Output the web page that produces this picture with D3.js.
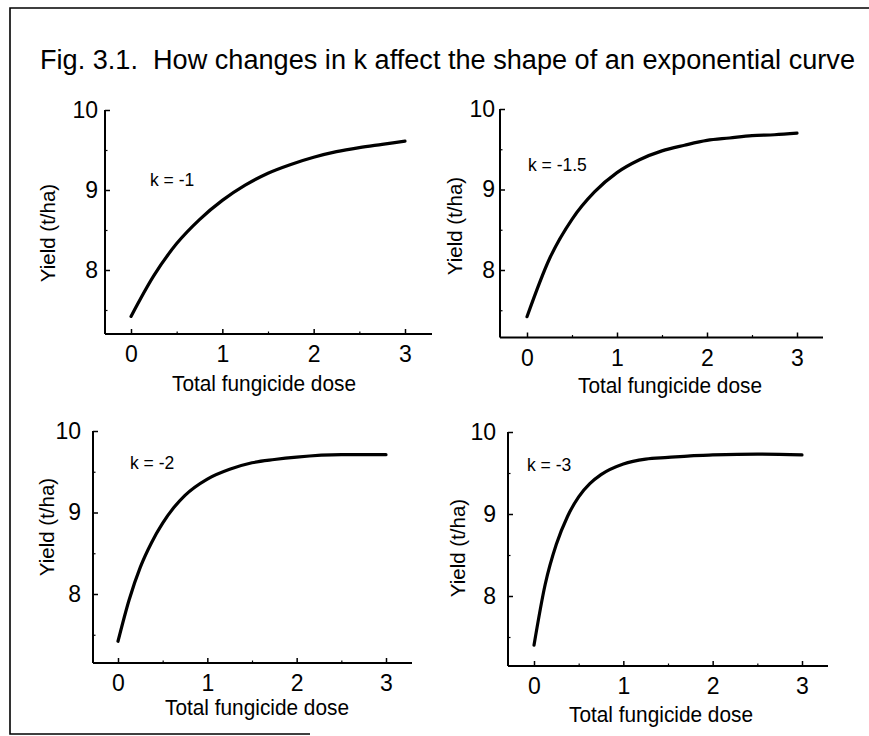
<!DOCTYPE html>
<html>
<head>
<meta charset="utf-8">
<script src="https://cdn.jsdelivr.net/npm/d3@7"></script>
<style>
  html, body { margin: 0; padding: 0; background: #fff; }
  svg { display: block; }
  text { font-family: "Liberation Sans", Arial, sans-serif; fill: #000; }
</style>
</head>
<body>
<svg id="chart" width="869" height="736"></svg>
<script>
// ---- data ----
const titleText = "Fig. 3.1.  How changes in k affect the shape of an exponential curve";
const xLabel = "Total fungicide dose";
const yLabel = "Yield (t/ha)";
const xTicks = [0, 1, 2, 3];
const xMinorTicks = [0.5, 1.5, 2.5];
const yTicks = [8, 9, 10];
const yMinorTicks = [7.5, 8.5, 9.5];
const kLabels = ["k = -1", "k = -1.5", "k = -2", "k = -3"];

const doses = [0, 0.25, 0.5, 0.75, 1, 1.25, 1.5, 1.75, 2, 2.25, 2.5, 2.75, 3];
const yieldK1 = [7.42, 7.93, 8.33, 8.63, 8.87, 9.06, 9.21, 9.32, 9.41, 9.48, 9.53, 9.57, 9.61];
const yieldK15 = [7.42, 8.14, 8.63, 8.97, 9.21, 9.37, 9.48, 9.55, 9.61, 9.64, 9.67, 9.68, 9.70];
const dosesFine = [0, 0.125, 0.25, 0.375, 0.5, 0.625, 0.75, 1, 1.25, 1.5, 1.75, 2, 2.5, 3];
const yieldK2 = [7.42, 7.93, 8.33, 8.63, 8.87, 9.06, 9.21, 9.41, 9.53, 9.61, 9.65, 9.68, 9.71, 9.71];
const yieldK3 = [7.40, 8.14, 8.63, 8.97, 9.21, 9.37, 9.48, 9.61, 9.67, 9.69, 9.71, 9.72, 9.73, 9.72];

const seriesX = [doses, doses, dosesFine, dosesFine];
const seriesY = [yieldK1, yieldK15, yieldK2, yieldK3];

// ---- layout (pixel geometry of each panel) ----
const panels = [
  { yAxisX: 105, xAxisY: 334,   x0: 131, x3: 405, y8: 270, y10: 110, xRight: 432, yPad: 7,
    xlab: [264, 391], ylab: [48, 233], klab: [150, 185] },
  { yAxisX: 500, xAxisY: 337.5, x0: 527, x3: 797, y8: 270, y10: 109, xRight: 823, yPad: 5,
    xlab: [670, 393], ylab: [455, 226], klab: [528, 170] },
  { yAxisX: 93,  xAxisY: 663,   x0: 118, x3: 386, y8: 594, y10: 431, xRight: 412, yPad: 12,
    xlab: [257, 715], ylab: [47, 527], klab: [130, 468] },
  { yAxisX: 508, xAxisY: 666,   x0: 534, x3: 802, y8: 596, y10: 432, xRight: 828, yPad: 12,
    xlab: [661, 722], ylab: [458, 548], klab: [527, 470] }
];

const svg = d3.select("#chart");

// frame
svg.append("path")
  .attr("d", "M869,8 L10,8 L10,734 L310,734")
  .attr("fill", "none").attr("stroke", "#000").attr("stroke-width", 1.6);

// title
svg.append("text")
  .attr("x", 40).attr("y", 69)
  .attr("font-size", 27)
  .attr("textLength", 815).attr("lengthAdjust", "spacingAndGlyphs")
  .style("white-space", "pre")
  .text(titleText);

panels.forEach((p, i) => {
  const x = d3.scaleLinear().domain([0, 3]).range([p.x0, p.x3]);
  const y = d3.scaleLinear().domain([8, 10]).range([p.y8, p.y10]);
  const g = svg.append("g");

  // axis lines
  g.append("line").attr("x1", p.yAxisX).attr("x2", p.yAxisX)
    .attr("y1", y(10)).attr("y2", p.xAxisY)
    .attr("stroke", "#000").attr("stroke-width", 2);
  g.append("line").attr("x1", p.yAxisX).attr("x2", p.xRight)
    .attr("y1", p.xAxisY).attr("y2", p.xAxisY)
    .attr("stroke", "#000").attr("stroke-width", 2.2);

  // x axis (major, inward ticks)
  const xa = g.append("g").attr("transform", `translate(0,${p.xAxisY})`)
    .call(d3.axisBottom(x).tickValues(xTicks).tickSize(-5).tickPadding(12).tickFormat(d3.format("d")));
  xa.select(".domain").remove();
  xa.selectAll("line").attr("stroke-width", 1.5);
  xa.selectAll("text").attr("font-size", 23).attr("font-family", "Liberation Sans, Arial, sans-serif");

  const xm = g.append("g").attr("transform", `translate(0,${p.xAxisY})`)
    .call(d3.axisBottom(x).tickValues(xMinorTicks).tickSize(-2.5).tickFormat(""));
  xm.select(".domain").remove();
  xm.selectAll("line").attr("stroke-width", 1.2);

  // y axis
  const ya = g.append("g").attr("transform", `translate(${p.yAxisX},0)`)
    .call(d3.axisLeft(y).tickValues(yTicks).tickSize(-5).tickPadding(p.yPad).tickFormat(d3.format("d")));
  ya.select(".domain").remove();
  ya.selectAll("line").attr("stroke-width", 1.5);
  ya.selectAll("text").attr("font-size", 23).attr("font-family", "Liberation Sans, Arial, sans-serif");

  const ym = g.append("g").attr("transform", `translate(${p.yAxisX},0)`)
    .call(d3.axisLeft(y).tickValues(yMinorTicks).tickSize(-2.5).tickFormat(""));
  ym.select(".domain").remove();
  ym.selectAll("line").attr("stroke-width", 1.2);

  // axis titles
  g.append("text")
    .attr("x", p.xlab[0] - 92).attr("y", p.xlab[1])
    .attr("font-size", 22)
    .attr("textLength", 184).attr("lengthAdjust", "spacingAndGlyphs")
    .text(xLabel);
  g.append("text")
    .attr("transform", `translate(${p.ylab[0] + 7},${p.ylab[1]}) rotate(-90)`)
    .attr("text-anchor", "middle").attr("font-size", 20.5)
    .text(yLabel);

  // k annotation
  g.append("text")
    .attr("x", p.klab[0]).attr("y", p.klab[1] + 1)
    .attr("font-size", 17.5)
    .attr("font-family", "Liberation Sans, Arial, sans-serif")
    .text(kLabels[i]);

  // curve
  const pts = seriesX[i].map((d, j) => [d, seriesY[i][j]]);
  g.append("path")
    .datum(pts)
    .attr("fill", "none").attr("stroke", "#000").attr("stroke-width", 3.2)
    .attr("stroke-linecap", "round")
    .attr("d", d3.line().x(d => x(d[0])).y(d => y(d[1])).curve(d3.curveMonotoneX));
});
</script>
</body>
</html>
